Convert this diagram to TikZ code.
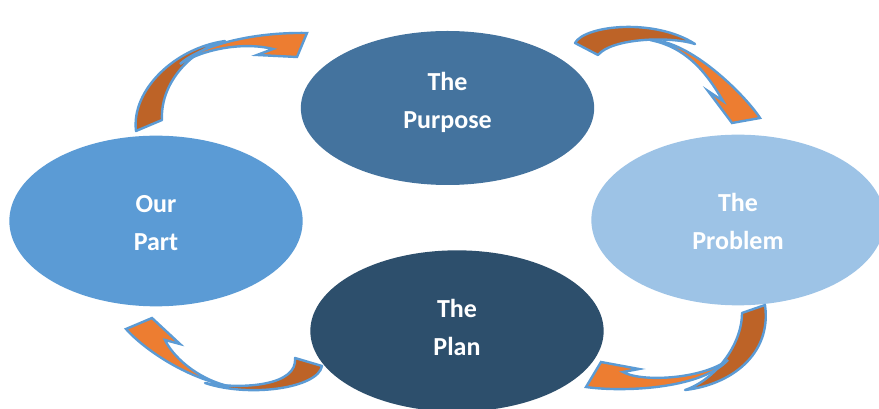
\documentclass[tikz,border=0pt]{standalone}
\usepackage{fontspec}
\setmainfont{Carlito}
\usetikzlibrary{shapes.geometric}

\definecolor{purposeblue}{HTML}{44739E}
\definecolor{partblue}{HTML}{5B9BD5}
\definecolor{problemblue}{HTML}{9DC3E6}
\definecolor{planblue}{HTML}{2D4F6C}
\definecolor{arrowlight}{HTML}{ED7D31}
\definecolor{arrowdark}{HTML}{BD6327}
\definecolor{arrowedge}{HTML}{5B9BD5}

\begin{document}
\begin{tikzpicture}[
        x=0.75pt, y=-0.75pt,
        stage_node/.style={
            ellipse,
            draw=none,
            inner sep=0pt,
            minimum width=220pt,
            minimum height=128pt
        },
        stage_text/.style={
            align=center,
            text=white,
            font=\fontsize{19.5}{28.5}\selectfont\bfseries
        },
        twist_back/.style={fill=arrowdark, draw=arrowedge, line width=1.8pt, line join=round},
        twist_front/.style={fill=arrowlight, draw=arrowedge, line width=1.8pt, line join=miter}
    ]

    \useasboundingbox (0,0) rectangle (879,409);

    % =================================================
    % THE FOUR STAGES
    % =================================================
    \node[stage_node, fill=purposeblue, minimum height=115.5pt,
          label={[stage_text, yshift=4.5pt]center:{The\\Purpose}}] (purpose) at (447.5,108) {};
    \node[stage_node, fill=partblue,
          label={[stage_text, yshift=-1.5pt]center:{Our\\Part}}] (our_part) at (156,221) {};
    \node[stage_node, fill=problemblue,
          label={[stage_text, yshift=-1pt]center:{The\\Problem}}] (problem) at (738,220) {};
    \node[stage_node, fill=planblue, minimum height=121pt,
          label={[stage_text, yshift=3pt]center:{The\\Plan}}] (plan) at (457,331) {};

    % =================================================
    % CURVED ARROWS (dark back half, light front half)
    % =================================================

    % Our Part -> The Purpose
    \path[twist_back] (136,131) .. controls (131,90) and (175,48) .. (225,41)
        .. controls (195,48) and (160,80) .. (162,120) -- cycle;
    \path[twist_front] (180,64) .. controls (200,46) and (250,32) .. (307,33)
        -- (297,57) -- (257,55) -- (273,49)
        .. controls (245,42) and (205,48) .. (180,64) -- cycle;

    % The Purpose -> The Problem
    \path[twist_back] (575,43) .. controls (585,25) and (655,18) .. (695,44)
        .. controls (670,36) and (612,38) .. (598,55) -- cycle;
    \path[twist_front] (650,40) .. controls (690,40) and (745,95) .. (760,118)
        -- (732,123) -- (708,91) -- (723,101)
        .. controls (705,70) and (685,47) .. (650,40) -- cycle;

    % The Problem -> The Plan
    \path[twist_back] (765,305) .. controls (772,355) and (730,385) .. (685,390)
        .. controls (715,380) and (742,345) .. (742,313) -- cycle;
    \path[twist_front] (728,360) .. controls (700,390) and (620,392) .. (586,387)
        -- (601,362) -- (639,369) -- (623,372)
        .. controls (640,382) and (700,380) .. (728,360) -- cycle;

    % The Plan -> Our Part
    \path[twist_back] (322,366) .. controls (318,388) and (250,398) .. (205,383)
        .. controls (245,390) and (298,385) .. (295,358) -- cycle;
    \path[twist_front] (228,386) .. controls (180,376) and (140,345) .. (126,329)
        -- (152,318) -- (180,344) -- (165,340)
        .. controls (172,355) and (195,378) .. (228,386) -- cycle;

\end{tikzpicture}
\end{document}
